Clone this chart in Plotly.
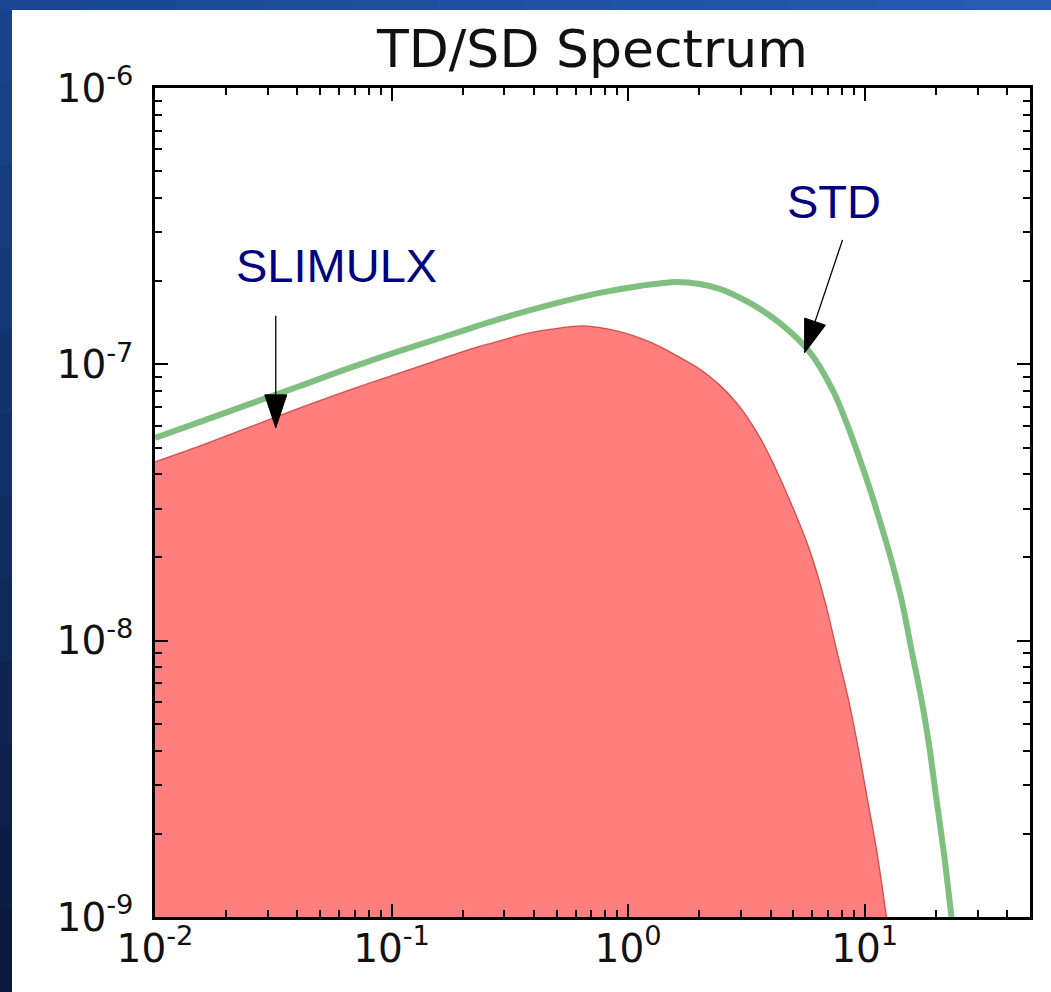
import math
import plotly.graph_objects as go

# ---- data ----
std_x = [0.01, 0.01549, 0.02520, 0.04100, 0.06666, 0.1084, 0.1763, 0.2868, 0.4665,
         0.7586, 1.119, 1.604, 2.007, 2.438, 3.265, 4.370, 5.851, 7.318, 8.226, 9.243,
         10.49, 11.56, 12.86, 14.32, 15.78, 17.40, 18.80, 20.13, 21.76, 23.29, 25.17]
std_y = [5.415e-8, 6.187e-8, 7.189e-8, 8.352e-8, 9.705e-8, 1.118e-7, 1.277e-7, 1.460e-7,
         1.641e-7, 1.813e-7, 1.922e-7, 1.987e-7, 1.954e-7, 1.875e-7, 1.668e-7, 1.412e-7,
         1.109e-7, 8.080e-8, 6.397e-8, 4.900e-8, 3.570e-8, 2.734e-8, 2.009e-8, 1.404e-8,
         9.254e-9, 6.101e-9, 4.090e-9, 2.652e-9, 1.635e-9, 1.0e-9, 6.169e-10]

slim_x = [0.01, 0.01549, 0.02520, 0.04100, 0.06666, 0.1084, 0.1763, 0.2248, 0.2868,
          0.3658, 0.4665, 0.6430, 0.8950, 1.234, 1.701, 2.007, 2.438, 2.876, 3.329,
          3.851, 4.817, 5.851, 6.769, 7.609, 8.551, 9.424, 10.285, 11.23, 12.37, 13.12]
slim_y = [4.433e-8, 5.066e-8, 5.934e-8, 6.953e-8, 8.080e-8, 9.310e-8, 1.072e-7, 1.147e-7,
          1.215e-7, 1.288e-7, 1.337e-7, 1.377e-7, 1.321e-7, 1.205e-7, 1.046e-7, 9.623e-8,
          8.422e-8, 7.249e-8, 6.085e-8, 4.900e-8, 3.229e-8, 2.129e-8, 1.404e-8, 9.254e-9,
          6.101e-9, 4.022e-9, 2.652e-9, 1.748e-9, 1.0e-9, 6.99e-10]

x_tick_vals = [0.01, 0.1, 1, 10]
x_tick_text = ["10<sup>-2</sup>", "10<sup>-1</sup>", "10<sup>0</sup>", "10<sup>1</sup>"]
y_tick_vals = [1e-9, 1e-8, 1e-7, 1e-6]
y_tick_text = ["10<sup>-9</sup>", "10<sup>-8</sup>", "10<sup>-7</sup>", "10<sup>-6</sup>"]

title_text = "TD/SD Spectrum"
label_slim = "SLIMULX"
label_std = "STD"
# annotation positions (data coords) and arrow tips
slim_label_pos = (0.0587, 2.28e-7)
std_label_pos = (7.40, 3.90e-7)
slim_tip = (0.0324, 5.89e-8)
std_tip = (5.57, 1.10e-7)

W, H = 1051, 992
ML, MR, MT, MB = 155, 21, 88, 75
PW, PH = W - ML - MR, H - MT - MB

fig = go.Figure()

# baseline for the fill
fig.add_trace(go.Scatter(x=[slim_x[0], slim_x[-1]], y=[1e-12, 1e-12], mode="lines",
                         line=dict(width=0, color="rgba(0,0,0,0)"),
                         showlegend=False, hoverinfo="skip"))
fig.add_trace(go.Scatter(x=slim_x, y=slim_y, mode="lines", name=label_slim,
                         line=dict(color="rgba(210,55,55,0.85)", width=1.3, shape="spline",
                                   smoothing=1.0, simplify=False),
                         fill="tonexty", fillcolor="#FF7F7F", showlegend=False))
fig.add_trace(go.Scatter(x=std_x, y=std_y, mode="lines", name=label_std,
                         line=dict(color="#7FBF7F", width=6, shape="spline",
                                   smoothing=1.0, simplify=False),
                         showlegend=False))

minor_x = [m * 10 ** e for e in range(-2, 2) for m in range(2, 10)]
minor_y = [m * 10 ** e for e in range(-9, -6) for m in range(2, 10)]

tickfont = dict(family="DejaVu Sans", size=39, color="#111111")
fig.update_xaxes(type="log", range=[math.log10(0.01), math.log10(50)],
                 tickmode="array", tickvals=x_tick_vals, ticktext=x_tick_text,
                 ticks="inside", ticklen=13, tickwidth=1.5, tickcolor="black",
                 minor=dict(tickmode="array", tickvals=minor_x, ticks="inside",
                            ticklen=7, tickwidth=1.5, tickcolor="black", showgrid=False),
                 showline=True, linecolor="black", linewidth=2.5, mirror="ticks",
                 showgrid=False, zeroline=False, tickfont=tickfont, ticklabelstandoff=-5)
fig.update_yaxes(type="log", range=[-9, -6],
                 tickmode="array", tickvals=y_tick_vals, ticktext=y_tick_text,
                 ticks="inside", ticklen=13, tickwidth=1.5, tickcolor="black",
                 minor=dict(tickmode="array", tickvals=minor_y, ticks="inside",
                            ticklen=7, tickwidth=1.5, tickcolor="black", showgrid=False),
                 showline=True, linecolor="black", linewidth=2.5, mirror="ticks",
                 showgrid=False, zeroline=False, tickfont=tickfont, ticklabelstandoff=11)

shapes = []
# slide-like background: white card with blue edges
def px_to_paper_x(px):
    return (px - ML) / PW
def py_to_paper_y(py):
    return (H - MB - py) / PH

shapes.append(dict(type="rect", xref="paper", yref="paper",
                   x0=px_to_paper_x(0), x1=px_to_paper_x(W), y0=py_to_paper_y(H), y1=py_to_paper_y(0),
                   fillcolor="#163c80", line=dict(width=0), layer="below"))
nb = 12
def lerp(c1, c2, t):
    return "rgb(%d,%d,%d)" % tuple(int(a + (b - a) * t) for a, b in zip(c1, c2))
for i in range(nb):
    t0, t1 = i / nb, (i + 1) / nb
    shapes.append(dict(type="rect", xref="paper", yref="paper",
                       x0=px_to_paper_x(0), x1=px_to_paper_x(12),
                       y0=py_to_paper_y(H * t1 + 1), y1=py_to_paper_y(H * t0),
                       fillcolor=lerp((26, 70, 145), (10, 24, 56), (t0 + t1) / 2),
                       line=dict(width=0), layer="below"))
    shapes.append(dict(type="rect", xref="paper", yref="paper",
                       x0=px_to_paper_x(W * t0), x1=px_to_paper_x(W * t1 + 1),
                       y0=py_to_paper_y(10), y1=py_to_paper_y(0),
                       fillcolor=lerp((26, 70, 145), (38, 92, 180), (t0 + t1) / 2),
                       line=dict(width=0), layer="below"))
shapes.append(dict(type="rect", xref="paper", yref="paper",
                   x0=px_to_paper_x(12), x1=px_to_paper_x(W + 2), y0=py_to_paper_y(H + 2), y1=py_to_paper_y(10),
                   fillcolor="white", line=dict(width=0), layer="below"))

# arrows (pixel-sized shapes anchored at the data tip)
def arrow(tip, dx, dy, head_len=33, half_w=11):
    L = math.hypot(dx, dy)
    ux, uy = dx / L, dy / L
    bx, by = ux * head_len, uy * head_len
    px_, py_ = -uy * half_w, ux * half_w
    line = dict(type="path", xref="x", yref="y", xsizemode="pixel", ysizemode="pixel",
                xanchor=tip[0], yanchor=tip[1],
                path="M %.2f,%.2f L %.2f,%.2f" % (dx, dy, bx, by),
                line=dict(color="black", width=1.3))
    head = dict(type="path", xref="x", yref="y", xsizemode="pixel", ysizemode="pixel",
                xanchor=tip[0], yanchor=tip[1],
                path="M 0,0 L %.2f,%.2f L %.2f,%.2f Z" % (bx + px_, by + py_, bx - px_, by - py_),
                fillcolor="black", line=dict(color="black", width=1))
    return [line, head]

shapes += arrow(slim_tip, 0, 112)
shapes += arrow(std_tip, 38, 113)

annfont = dict(family="Liberation Sans, Arial", size=47, color="#000080")
annotations = [
    dict(x=math.log10(slim_label_pos[0]), y=math.log10(slim_label_pos[1]), xref="x", yref="y",
         text=label_slim, showarrow=False, font=annfont, xanchor="center", yanchor="middle"),
    dict(x=math.log10(std_label_pos[0]), y=math.log10(std_label_pos[1]), xref="x", yref="y",
         text=label_std, showarrow=False, font=annfont, xanchor="center", yanchor="middle"),
]

fig.update_layout(
    width=W, height=H,
    margin=dict(l=ML, r=MR, t=MT, b=MB),
    paper_bgcolor="white", plot_bgcolor="white",
    title=dict(text=title_text, x=0.5, xref="paper", xanchor="center",
               y=1 - 49 / H, yanchor="middle",
               font=dict(family="DejaVu Sans", size=52, color="#111111")),
    shapes=shapes, annotations=annotations,
)

fig.write_html("out.html")
